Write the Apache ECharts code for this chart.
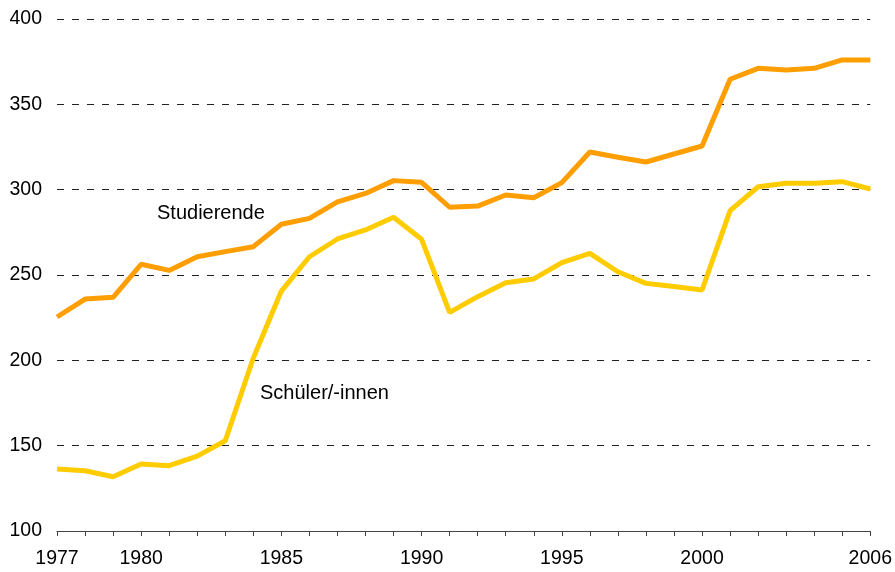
<!DOCTYPE html>
<html>
<head>
<meta charset="utf-8">
<script src="https://cdn.jsdelivr.net/npm/echarts@6/dist/echarts.min.js"></script>
<style>html,body{margin:0;padding:0;background:#fff}#c{width:895px;height:572px}</style>
</head>
<body>
<div id="c"></div>
<script>
const years = ['1977','1978','1979','1980','1981','1982','1983','1984','1985','1986','1987','1988','1989','1990','1991','1992','1993','1994','1995','1996','1997','1998','1999','2000','2001','2002','2003','2004','2005','2006'];
const shownYears = ['1977','1980','1985','1990','1995','2000','2006'];
const studierende = [225.4,235.9,236.9,256.3,252.7,260.7,263.7,266.6,279.7,283.2,292.8,297.8,305.3,304.3,289.7,290.4,296.9,295.3,304.1,322.1,319.0,316.2,320.9,325.6,364.7,371.1,370.1,371.1,376.0,376.0];
const schueler = [136.3,135.3,131.8,139.3,138.3,143.9,152.9,201.4,240.6,260.7,271.1,276.4,283.8,270.9,228.1,237.3,245.5,247.7,257.3,262.7,251.9,245.1,243.2,241.2,287.7,301.7,303.7,303.7,304.7,300.4];
const yTicks = {min:100, max:400, step:50};
const seriesNames = ['Studierende','Schüler/-innen'];

const chart = echarts.init(document.getElementById('c'));
const font = 'Liberation Sans, Arial, sans-serif';
chart.setOption({
  animation:false,
  grid:{left:57, right:22, top:19, bottom:41},
  xAxis:{
    type:'category', data:years, boundaryGap:false,
    axisLine:{lineStyle:{color:'#444',width:1}},
    axisTick:{show:true, interval:0, length:5, lineStyle:{color:'#444'}},
    axisLabel:{interval:function(i,v){return shownYears.indexOf(v)>=0;}, color:'#000', fontSize:19.5, fontFamily:font, margin:18},
    splitLine:{show:false}
  },
  yAxis:{
    type:'value', min:yTicks.min, max:yTicks.max, interval:yTicks.step,
    axisLine:{show:false}, axisTick:{show:false},
    axisLabel:{color:'#000', fontSize:19.5, fontFamily:font, margin:15},
    splitLine:{show:true, lineStyle:{color:'#222', type:[7,8], width:1}}
  },
  series:[
    {name:seriesNames[0], type:'line', data:studierende, symbol:'none', lineStyle:{color:'#FF9E00', width:5}, z:3},
    {name:seriesNames[1], type:'line', data:schueler, symbol:'none', lineStyle:{color:'#FFCC00', width:5}, z:2}
  ],
  graphic:[
    {type:'text', left:157, top:203, style:{text:seriesNames[0], fontSize:20, fontFamily:font, fill:'#000'}},
    {type:'text', left:260, top:383, style:{text:seriesNames[1], fontSize:20, fontFamily:font, fill:'#000'}}
  ]
});
</script>
</body>
</html>
